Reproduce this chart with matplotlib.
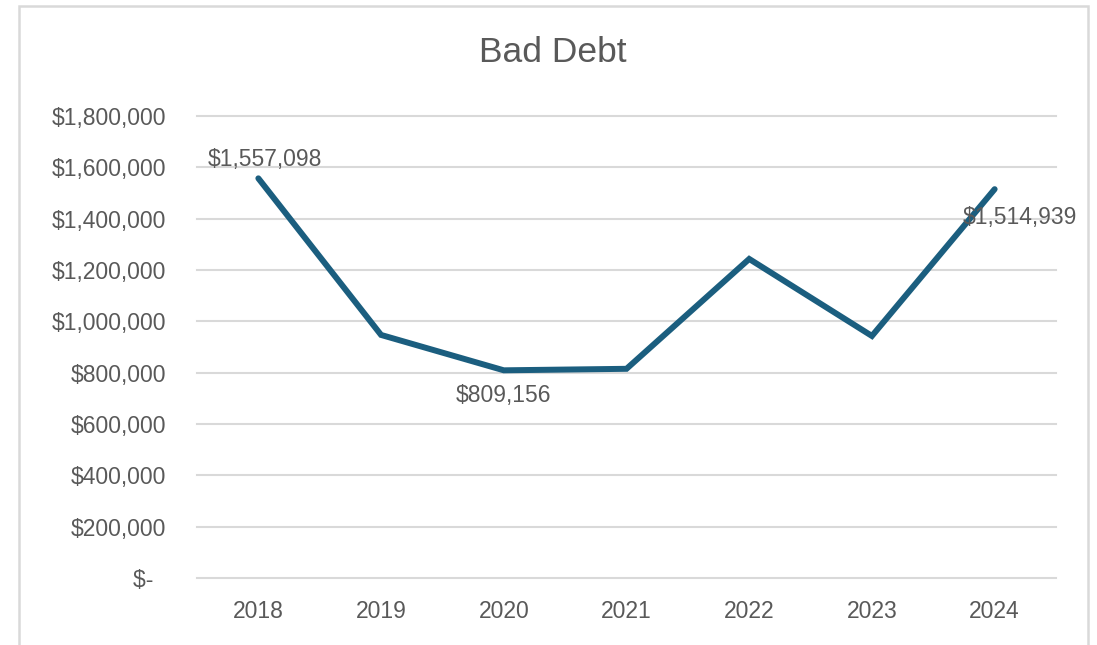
import matplotlib.pyplot as plt
import matplotlib.patches as patches
from matplotlib.ticker import FuncFormatter

# Data
years = ['2018', '2019', '2020', '2021', '2022', '2023', '2024']
bad_debt = [1557098, 947000, 809156, 815000, 1243000, 943000, 1514939]
labeled = {0: (7, 19), 2: (0, -25), 6: (25, -28)}  # index -> label offset (pixels)

plt.rcParams['font.family'] = ['Liberation Sans', 'DejaVu Sans']
text_color = '#595959'
line_color = '#1B5E7F'
grid_color = '#D9D9D9'
fs = 16.5

fig = plt.figure(figsize=(10.97, 6.45), dpi=100)
ax = fig.add_axes([197 / 1097, 1 - 578 / 645, (1056 - 197) / 1097, (578 - 116) / 645])

# Chart border (bottom edge is cut off in the original)
fig.patches.append(patches.Rectangle((19 / 1097, -0.05), (1088 - 19) / 1097, 1.05 - 6 / 645,
                                     transform=fig.transFigure, fill=False,
                                     edgecolor='#D9D9D9', linewidth=1.8))

x = range(len(years))
ax.plot(x, bad_debt, color=line_color, linewidth=4.3, solid_capstyle='round',
        solid_joinstyle='miter', zorder=3)

for i, (dx, dy) in labeled.items():
    ax.annotate(f'${bad_debt[i]:,}', (i, bad_debt[i]), xytext=(dx, dy),
                textcoords='offset pixels', ha='center', va='center',
                fontsize=fs, color=text_color, zorder=4)

ax.set_xlim(-0.5, len(years) - 0.5)
ax.set_ylim(0, 1800000)
ax.set_yticks(range(0, 1800001, 200000))
ax.yaxis.set_major_formatter(FuncFormatter(lambda v, p: '$-  ' if v == 0 else f'${v:,.0f}'))
ax.set_xticks(list(x))
ax.set_xticklabels(years)

ax.yaxis.grid(True, color=grid_color, linewidth=1.5)
for gl in ax.get_ygridlines():
    gl.set_clip_on(False)
ax.set_axisbelow(True)
for s in ax.spines.values():
    s.set_visible(False)
ax.tick_params(axis='y', length=0, pad=22, labelsize=fs, labelcolor=text_color)
ax.tick_params(axis='x', length=0, pad=16, labelsize=fs, labelcolor=text_color)

fig.text(553 / 1097, 1 - 53 / 645, 'Bad Debt', ha='center', va='center',
         fontsize=25.5, color=text_color)

fig.savefig('out.png', dpi=100)
